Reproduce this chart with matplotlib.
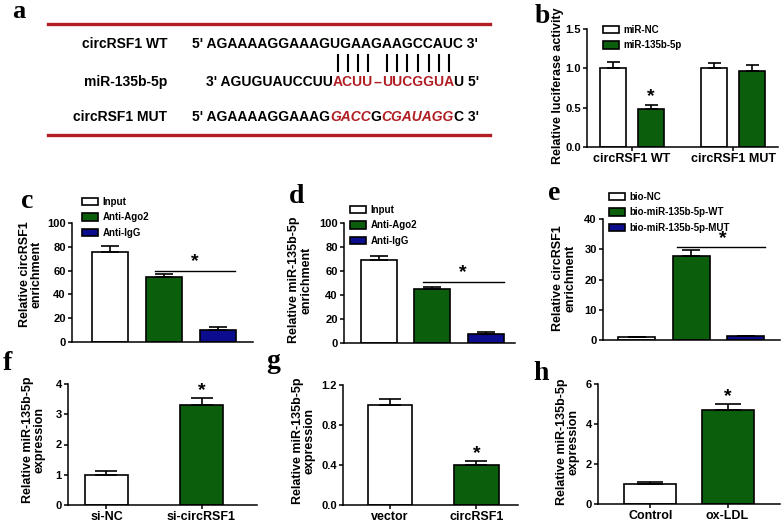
import matplotlib
matplotlib.use("Agg")
import matplotlib.pyplot as plt
import numpy as np
from matplotlib.font_manager import FontProperties
from matplotlib.lines import Line2D
from matplotlib.ticker import FormatStrFormatter

W, H = 783, 523
plt.rcParams['font.family'] = 'Liberation Sans'
plt.rcParams['font.weight'] = 'bold'

GREEN = '#0b5e0b'
BLUE = '#0c0c8e'
RED = '#b01e23'

# panel a: sequences
a_rows = ['circRSF1 WT', 'miR-135b-5p', 'circRSF1 MUT']
wt_seq = [("5' AGAAAAGGAAAGUGAAGAAGCCAUC 3'", 'k', 'normal')]
mir_seq = [("3' AGUGUAUCCUU", 'k', 'normal'), ("ACUU", RED, 'normal'), ("--", RED, 'normal'),
           ("UUCGGUA", RED, 'normal'), ("U 5'", 'k', 'normal')]
mut_seq = [("5' AGAAAAGGAAAG", 'k', 'normal'), ("GACC", RED, 'italic'), ("G", 'k', 'normal'),
           ("CGAUAGG", RED, 'italic'), ("C 3'", 'k', 'normal')]
paired = ["ACUU", "UUCGGUA"]

# panel b
b_groups = ['circRSF1 WT', 'circRSF1 MUT']
b_series = ['miR-NC', 'miR-135b-5p']
b_vals = [[1.00, 1.00], [0.48, 0.96]]
b_errs = [[0.08, 0.07], [0.05, 0.08]]

# panels c, d (RIP) and e (pull-down)
cd_labels = ['Input', 'Anti-Ago2', 'Anti-IgG']
c_vals = [76, 55, 10.5]
c_errs = [4.5, 2.0, 2.0]
d_vals = [69, 45, 7.5]
d_errs = [3.5, 2.0, 1.5]
e_labels = ['bio-NC', 'bio-miR-135b-5p-WT', 'bio-miR-135b-5p-MUT']
e_vals = [1.0, 27.8, 1.3]
e_errs = [0.1, 1.8, 0.15]

# panels f, g, h
f_labels = ['si-NC', 'si-circRSF1']
f_vals = [1.0, 3.3]
f_errs = [0.12, 0.23]
g_labels = ['vector', 'circRSF1']
g_vals = [1.0, 0.40]
g_errs = [0.06, 0.04]
h_labels = ['Control', 'ox-LDL']
h_vals = [1.0, 4.72]
h_errs = [0.10, 0.28]

fig = plt.figure(figsize=(W / 100, H / 100), dpi=100)
renderer = fig.canvas.get_renderer()


def fx(px):
    return px / W


def fy(py):
    return 1 - py / H


def px_axes(left, right, top, bottom):
    return fig.add_axes([fx(left), fy(bottom), (right - left) / W, (bottom - top) / H])


def style(ax, ymax, step, xlim, fmt='%d'):
    ax.set_xlim(*xlim)
    ax.set_ylim(0, ymax)
    ax.set_yticks(np.arange(0, ymax + step / 2, step))
    ax.yaxis.set_major_formatter(FormatStrFormatter(fmt))
    ax.spines[['top', 'right']].set_visible(False)
    ax.spines[['left', 'bottom']].set_linewidth(1.1)
    ax.tick_params(axis='both', length=3, width=1.1, labelsize=8, pad=1.5)
    ax.tick_params(axis='x', labelsize=9)


def bars(ax, x, vals, errs, colors, width, bar_px):
    bc = ax.bar(x, vals, width, color=colors, edgecolor='k', linewidth=1.2, zorder=2)
    ax.errorbar(x, vals, yerr=[np.zeros(len(vals)), errs], fmt='none', ecolor='k',
                elinewidth=1.2, capthick=1.2, capsize=bar_px * 0.25 * 0.72, zorder=3)
    return bc


def legend(ax, handles, labels, left, top):
    ax.legend(handles, labels, loc='upper left', bbox_to_anchor=(fx(left), fy(top)),
              bbox_transform=fig.transFigure, frameon=False, fontsize=7,
              handlelength=1.6, handleheight=0.75, handletextpad=0.5,
              labelspacing=0.55, borderpad=0, borderaxespad=0)


def ylabel(text, x, y, size=9):
    fig.text(fx(x), fy(y), text, rotation=90, ha='center', va='center',
             fontsize=size, multialignment='center', linespacing=1.0)


def signif(ax, x0, x1, y, xs, ys):
    ax.plot([x0, x1], [y, y], color='k', lw=1.0)
    ax.text(xs, ys, '*', ha='center', va='center', fontsize=14)


def letter(ch, x, y, size=20):
    fig.text(fx(x), fy(y), ch, family='Liberation Serif', fontsize=size,
             weight='bold', ha='left', va='baseline')


# ---- panel a ----
seq_prop = dict(family='Liberation Sans', weight='bold', size=10)


def text_w(s, prop):
    return renderer.get_text_width_height_descent(s, prop, ismath=False)[0]


def draw_seq(x0, y, segments):
    x = x0
    centers = []
    for s, c, st in segments:
        prop = FontProperties(style=st, **seq_prop)
        fig.text(fx(x), fy(y), s, color=c, fontproperties=prop, ha='left', va='center')
        for i, ch in enumerate(s):
            wpre = text_w(s[:i] + 'x', prop) - text_w('x', prop) if i else 0
            centers.append((s, x + wpre + text_w(ch, prop) / 2))
        x += text_w(s, prop)
    return centers


row_y = [44, 82, 117]
for name, y in zip(a_rows, row_y):
    fig.text(fx(167), fy(y), name, ha='right', va='center', fontsize=10)
draw_seq(192, row_y[0], wt_seq)
mir_centers = draw_seq(206, row_y[1], mir_seq)
draw_seq(192, row_y[2], mut_seq)
for seg, cx in mir_centers:
    if seg in paired:
        fig.add_artist(Line2D([fx(cx), fx(cx)], [fy(55), fy(71)], color='k', lw=1.5))
for yl in (24, 135):
    fig.add_artist(Line2D([fx(48), fx(490)], [fy(yl), fy(yl)], color=RED, lw=2.4))
letter('a', 12, 18, 19)

# ---- panel b ----
ax = px_axes(587, 778, 29, 147)
gx = np.arange(len(b_groups))
hb = []
for i, (vals, errs, col) in enumerate(zip(b_vals, b_errs, ['white', GREEN])):
    hb.append(bars(ax, gx + (i - 0.5) * 0.372, vals, errs, col, 0.26, 26)[0])
style(ax, 1.5, 0.5, (-0.446, 1.445), '%.1f')
ax.set_xticks(gx, b_groups)
ax.text(0.186, 0.64, '*', ha='center', va='center', fontsize=14)
legend(ax, hb, b_series, 603, 25)
ylabel('Relative luciferase activity', 558, 86, 9)
letter('b', 535, 23)

# ---- panel c ----
ax = px_axes(72, 253, 223, 342)
x = np.arange(len(cd_labels))
bc = bars(ax, x, c_vals, c_errs, ['white', GREEN, BLUE], 0.667, 36)
style(ax, 100, 20, (-0.70, 2.65))
ax.set_xticks([])
signif(ax, 0.83, 2.31, 60, 1.57, 68)
legend(ax, bc.patches, cd_labels, 82, 197)
ylabel('Relative circRSF1\nenrichment', 31, 274)
letter('c', 21, 208)

# ---- panel d ----
ax = px_axes(344, 515, 223, 343)
bc = bars(ax, x, d_vals, d_errs, ['white', GREEN, BLUE], 0.667, 36)
style(ax, 100, 20, (-0.64, 2.53))
ax.set_xticks([])
signif(ax, 0.82, 2.32, 51, 1.56, 59)
legend(ax, bc.patches, cd_labels, 350, 205)
ylabel('Relative miR-135b-5p\nenrichment', 300, 280)
letter('d', 289, 203)

# ---- panel e ----
ax = px_axes(603, 780, 219, 340)
bc = bars(ax, x, e_vals, e_errs, ['white', GREEN, BLUE], 0.68, 37)
style(ax, 40, 10, (-0.615, 2.63))
ax.set_xticks([])
signif(ax, 0.74, 2.36, 30.6, 1.59, 33.5)
legend(ax, bc.patches, e_labels, 609, 192)
ylabel('Relative circRSF1\nenrichment', 564, 278)
letter('e', 548, 200)

# ---- panel f ----
x2 = np.arange(2)
ax = px_axes(68, 257, 384, 505)
bars(ax, x2, f_vals, f_errs, ['white', GREEN], 0.45, 43)
style(ax, 4, 1, (-0.405, 1.584))
ax.set_xticks(x2, f_labels)
ax.text(1, 3.78, '*', ha='center', va='center', fontsize=14)
ylabel('Relative miR-135b-5p\nexpression', 34, 440)
letter('f', 3, 370)

# ---- panel g ----
ax = px_axes(343, 518, 385, 505)
bars(ax, x2, g_vals, g_errs, ['white', GREEN], 0.51, 44)
style(ax, 1.2, 0.4, (-0.543, 1.48), '%.1f')
ax.set_xticks(x2, g_labels)
ax.text(1, 0.51, '*', ha='center', va='center', fontsize=14)
ylabel('Relative miR-135b-5p\nexpression', 304, 441)
letter('g', 266, 368)

# ---- panel h ----
ax = px_axes(598, 780, 384, 504)
bars(ax, x2, h_vals, h_errs, ['white', GREEN], 0.675, 52)
style(ax, 6, 2, (-0.68, 1.68))
ax.set_xticks(x2, h_labels)
ax.text(1, 5.35, '*', ha='center', va='center', fontsize=14)
ylabel('Relative miR-135b-5p\nexpression', 568, 442)
letter('h', 533, 380)

fig.savefig('out.png', dpi=100)
